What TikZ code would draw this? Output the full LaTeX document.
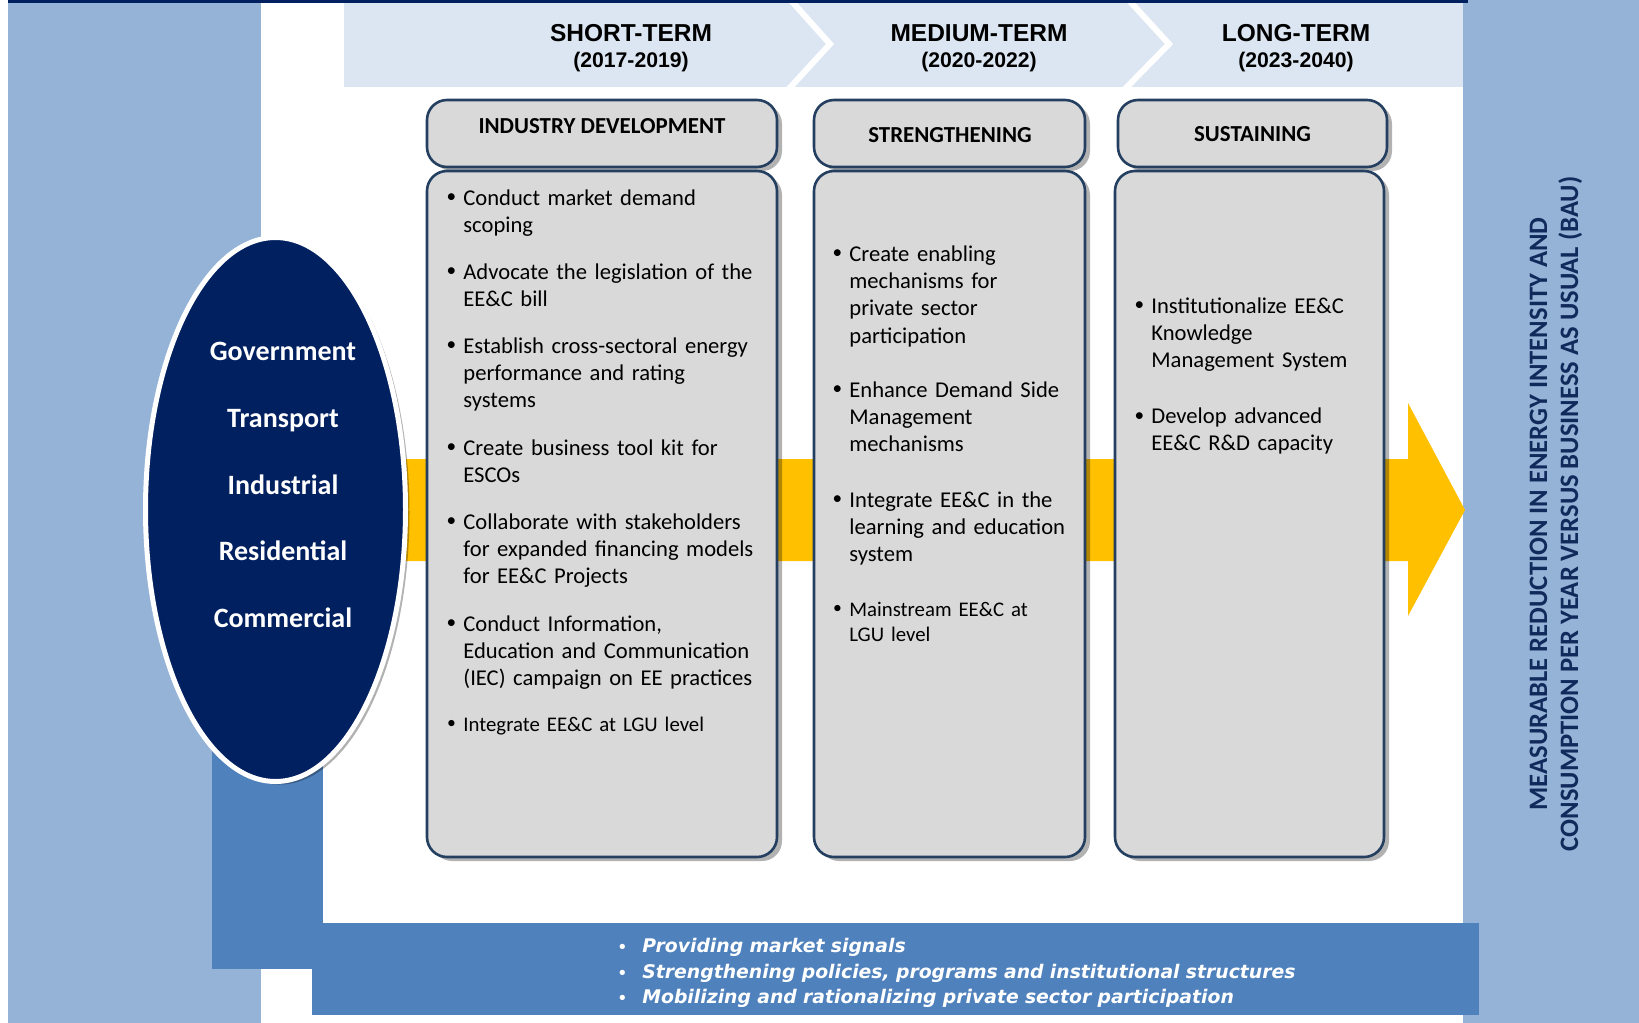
\documentclass[tikz,border=0pt]{standalone}
\usepackage{fontspec}
\setmainfont{Carlito}
\newfontfamily\arialfont{Liberation Sans}
\newfontfamily\verdfont{DejaVu Sans}
\usetikzlibrary{shadows,shapes.geometric,fit}

\definecolor{panel}{HTML}{95B3D7}
\definecolor{hdr}{HTML}{DCE6F2}
\definecolor{midblue}{HTML}{4F81BD}
\definecolor{navy}{HTML}{002060}
\definecolor{amber}{HTML}{FFC000}
\definecolor{boxfill}{HTML}{D9D9D9}
\definecolor{boxline}{HTML}{243F60}
\definecolor{vtext}{HTML}{112A5C}

\newcommand{\bl}{\leavevmode\llap{\makebox[6pt][c]{\raisebox{1.2pt}{\scalebox{0.85}{\textbullet}}}\hspace{3pt}}}
\newcommand{\wbl}{\leavevmode\llap{\makebox[6pt][c]{\scalebox{0.8}{\textbullet}}\hspace{7pt}}}

\begin{document}
\begin{tikzpicture}[x=0.5pt,y=-0.5pt,
  tbox/.style={draw=boxline, line width=1.3pt, fill=boxfill, rounded corners=10pt, inner sep=0pt,
    drop shadow={shadow xshift=2.5pt, shadow yshift=-2pt, opacity=0.3, fill=black}},
  itm/.style={anchor=base west, inner sep=0pt, text width=175pt, align=left,
    font=\fontsize{11.3pt}{13.7pt}\selectfont},
  itmsmall/.style={itm, font=\fontsize{10.4pt}{12.5pt}\selectfont},
  boxtitle/.style={anchor=base, inner sep=0pt, font=\bfseries\fontsize{11.45pt}{13pt}\selectfont},
  term/.style={anchor=base, inner sep=0pt, font=\arialfont\bfseries\fontsize{12.25pt}{14pt}\selectfont},
  years/.style={anchor=base, inner sep=0pt, font=\arialfont\bfseries\fontsize{10.6pt}{12pt}\selectfont},
  sector/.style={anchor=base, inner sep=0pt, text=white, font=\bfseries\fontsize{14pt}{16pt}\selectfont},
  chev/.style={white, line width=3pt, line join=miter}
]
\useasboundingbox (0,0) rectangle (1639,1023);
\fill[white] (0,0) rectangle (1639,1023);

% side panels
\fill[panel] (8,0) rectangle (261,1023);
\fill[panel] (1463,0) rectangle (1639,1023);

% header band with chevrons
\fill[hdr] (344,2) rectangle (1463,87);
\draw[chev] (787,-4) -- (830,44) -- (786,92);
\draw[chev] (1125,-4) -- (1169,44) -- (1122,92);
\fill[navy] (8,0) rectangle (1468,2.6);

% blue L-shaped band
\fill[midblue] (212,509) rectangle (323,969);
\fill[midblue] (312,923) rectangle (1479,1015);

% amber arrow
\fill[amber] (280,459) -- (1408,459) -- (1408,403) -- (1465,510) -- (1408,616) -- (1408,561) -- (280,561) -- cycle;

% sector ellipse
\node (sect) [ellipse, fill=navy, draw=white, line width=2.5pt, minimum width=130pt, minimum height=272pt, inner sep=0pt,
  drop shadow={shadow xshift=2pt, shadow yshift=-1.5pt, opacity=0.3, fill=black}] at (275.5,509.5) {};
\node (s1) [sector] at (283,360) {Government};
\node (s2) [sector] at (283,427.3) {Transport};
\node (s3) [sector] at (283,494) {Industrial};
\node (s4) [sector] at (283,560.7) {Residential};
\node (s5) [sector] at (283,627.3) {Commercial};

% term headings
\node (t1) [term] at (631,41.7) {SHORT-TERM};
\node (y1) [years] at (631,67) {(2017-2019)};
\node (t2) [term] at (979,41.7) {MEDIUM-TERM};
\node (y2) [years] at (979,67) {(2020-2022)};
\node (t3) [term] at (1296,41.7) {LONG-TERM};
\node (y3) [years] at (1296,67) {(2023-2040)};

% boxes
\node (h1) [tbox, fit={(427,100) (777,167)}] {};
\node (c1) [tbox, fit={(427,171) (777,857)}] {};
\node (h2) [tbox, fit={(814,100) (1085,167)}] {};
\node (c2) [tbox, fit={(814,171) (1085,857)}] {};
\node (h3) [tbox, fit={(1118,100) (1387,167)}] {};
\node (c3) [tbox, fit={(1115,171) (1384,857)}] {};

\node (ht1) [boxtitle] at (602,133.3) {INDUSTRY DEVELOPMENT};
\node (ht2) [boxtitle] at (950,142.3) {STRENGTHENING};
\node (ht3) [boxtitle] at (1252.5,141.7) {SUSTAINING};

% box 1 items
\node (i1a) [itm] at (463,205) {\bl Conduct market demand\\scoping};
\node (i1b) [itm] at (463,279) {\bl Advocate the legislation of the\\EE\&C bill};
\node (i1c) [itm] at (463,353) {\bl Establish cross-sectoral energy\\performance and rating\\systems};
\node (i1d) [itm] at (463,455) {\bl Create business tool kit for\\ESCOs};
\node (i1e) [itm] at (463,529) {\bl Collaborate with stakeholders\\for expanded financing models\\for EE\&C Projects};
\node (i1f) [itm] at (463,631) {\bl Conduct Information,\\Education and Communication\\(IEC) campaign on EE practices};
\node (i1g) [itmsmall] at (463,731) {\bl Integrate EE\&C at LGU level};

% box 2 items
\node (i2a) [itm] at (849,261) {\bl Create enabling\\mechanisms for\\private sector\\participation};
\node (i2b) [itm] at (849,397) {\bl Enhance Demand Side\\Management\\mechanisms};
\node (i2c) [itm] at (849,507) {\bl Integrate EE\&C in the\\learning and education\\system};
\node (i2d) [itmsmall] at (849,616) {\bl Mainstream EE\&C at\\LGU level};

% box 3 items
\node (i3a) [itm] at (1151,313) {\bl Institutionalize EE\&C\\Knowledge\\Management System};
\node (i3b) [itm] at (1151,423.5) {\bl Develop advanced\\EE\&C R\&D capacity};

% bottom band text
\node (bt) [anchor=base west, inner sep=0pt, text width=400pt, align=left, text=white,
  font=\verdfont\bfseries\itshape\fontsize{9.4pt}{12.65pt}\selectfont] at (642,952.7)
  {\wbl Providing market signals\\\wbl Strengthening policies, programs and institutional structures\\\wbl Mobilizing and rationalizing private sector participation};

% outcome text
\node (out) [rotate=90, align=center, inner sep=0pt, text=vtext,
  font=\bfseries\fontsize{13.3pt}{15.5pt}\selectfont] at (1556,514)
  {MEASURABLE REDUCTION IN ENERGY INTENSITY AND\\CONSUMPTION PER YEAR VERSUS BUSINESS AS USUAL (BAU)};
\end{tikzpicture}
\end{document}
